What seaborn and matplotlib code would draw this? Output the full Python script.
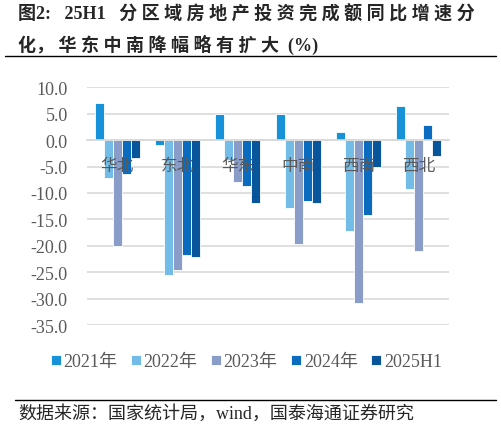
import numpy as np
import pandas as pd
import matplotlib
matplotlib.use("Agg")
import matplotlib.pyplot as plt
import seaborn as sns

regions = ["华北", "东北", "华东", "中南", "西南", "西北"]
series_names = ["2021年", "2022年", "2023年", "2024年", "2025H1"]
v2021 = [7.0, -0.9, 4.9, 5.0, 1.6, 6.5]
v2022 = [-7.2, -25.6, -3.8, -12.9, -17.2, -9.2]
v2023 = [-20.0, -24.5, -7.9, -19.6, -30.9, -21.0]
v2024 = [-6.4, -21.8, -8.6, -11.5, -14.1, 2.8]
v2025 = [-3.3, -22.2, -11.9, -11.9, -5.0, -3.0]
colors = ["#1792D8", "#73BCE8", "#8A9DC8", "#0B6BBE", "#08559C"]
yticks = [10, 5, 0, -5, -10, -15, -20, -25, -30, -35]

title_line1 = "图2:   25H1   分 区 域 房 地 产 投 资 完 成 额 同 比 增 速 分"
title_line2 = "化， 华 东 中 南 降 幅 略 有 扩 大  (%)"
source_text = "数据来源：国家统计局，wind，国泰海通证券研究"

sns.set_theme(style="white")
plt.rcParams['font.family'] = ['Liberation Serif', 'Noto Sans CJK SC', 'DejaVu Sans']

rows = []
for name, vals in zip(series_names, [v2021, v2022, v2023, v2024, v2025]):
    for r, v in zip(regions, vals):
        rows.append({"region": r, "series": name, "value": v})
df = pd.DataFrame(rows)

fig = plt.figure(figsize=(5.01, 4.31), dpi=100)
ax = fig.add_axes([0.174, 0.2436, 0.722, 0.5515])

sns.barplot(data=df, x="region", y="value", hue="series", order=regions,
            hue_order=series_names, palette=colors, width=0.75,
            edgecolor="white", linewidth=0.6, ax=ax, legend=True, saturation=1)

ax.set_ylim(-35, 10)
ax.set_yticks(yticks)
ax.set_yticklabels([f"{t:.1f}" for t in yticks], fontsize=13, color="#595959",
                   family=['Liberation Serif'])
ax.yaxis.grid(True, color="#D9D9D9", linewidth=1.2)
ax.set_axisbelow(True)
for s in ["top", "right", "left"]:
    ax.spines[s].set_visible(False)
ax.spines["bottom"].set_position(("data", 0))
ax.spines["bottom"].set_color("#D9D9D9")
ax.spines["bottom"].set_linewidth(1.2)
ax.tick_params(axis="x", length=0, labelbottom=False)
ax.tick_params(axis="y", length=0, pad=14)
ax.set_xlabel("")
ax.set_ylabel("")

# category labels drawn on top of the bars
for i, r in enumerate(regions):
    ax.annotate(r, xy=(i, 0), xycoords="data", xytext=(0, -25), textcoords="offset pixels",
                ha="center", va="center", fontsize=12, color="#595959",
                family=['Noto Sans CJK SC'], zorder=10, annotation_clip=False)

leg = ax.legend(loc="center", bbox_to_anchor=(0.44, -0.155), ncol=5, frameon=False,
                fontsize=13, handlelength=0.55, handleheight=0.55, handletextpad=0.15,
                columnspacing=0.75)
for t in leg.get_texts():
    t.set_color("#595959")

fig.text(0.036, 0.967, title_line1, fontsize=13, fontweight="bold", va="center", ha="left",
         family=['Liberation Serif', 'Noto Sans CJK SC'])
fig.text(0.036, 0.895, title_line2, fontsize=13, fontweight="bold", va="center", ha="left",
         family=['Liberation Serif', 'Noto Sans CJK SC'])
fig.add_artist(plt.Line2D([0.01, 0.99], [0.868, 0.868], color="black", linewidth=1.0))
fig.add_artist(plt.Line2D([0.03, 0.99], [0.07, 0.07], color="black", linewidth=1.0))
fig.text(0.036, 0.04, source_text, fontsize=13, va="center", ha="left",
         family=['Liberation Serif', 'Noto Sans CJK SC'])

fig.savefig("out.png", dpi=100)
